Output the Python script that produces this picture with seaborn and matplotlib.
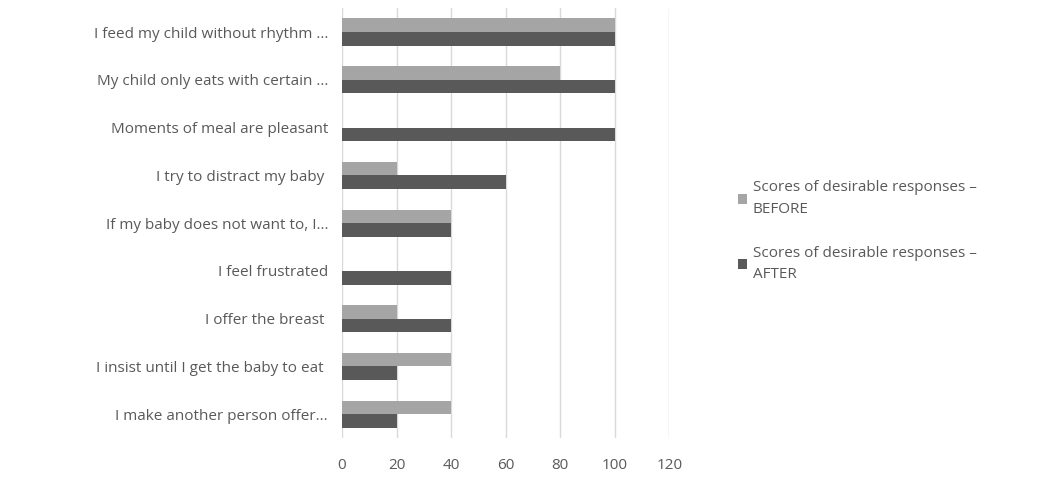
import pandas as pd
import seaborn as sns
import matplotlib.pyplot as plt

categories = [
    "I feed my child without rhythm ...",
    "My child only eats with certain ...",
    "Moments of meal are pleasant",
    "I try to distract my baby ",
    "If my baby does not want to, I...",
    "I feel frustrated",
    "I offer the breast ",
    "I insist until I get the baby to eat ",
    "I make another person offer...",
]
before = [100, 80, 0, 20, 40, 0, 20, 40, 40]
after = [100, 100, 100, 60, 40, 40, 40, 20, 20]
series = ["Scores of desirable responses –\nBEFORE", "Scores of desirable responses –\nAFTER"]

df = pd.DataFrame({
    "cat": categories * 2,
    "val": before + after,
    "series": [series[0]] * len(categories) + [series[1]] * len(categories),
})

sns.set_style("white")
plt.rcParams["font.family"] = ["Open Sans", "DejaVu Sans"]
txt = "#595959"

fig = plt.figure(figsize=(10.49, 4.82), dpi=100)
ax = fig.add_axes([0.326, 0.091, 0.312, 0.892])
sns.barplot(data=df, y="cat", x="val", hue="series", orient="h",
            palette=["#A5A5A5", "#595959"], width=0.57, ax=ax,
            saturation=1, linewidth=0, legend=True)

ax.set_xlim(0, 120)
ax.set_xticks(range(0, 121, 20))
ax.grid(axis="x", color="#D9D9D9", linewidth=1)
ax.set_axisbelow(True)
for s in ax.spines.values():
    s.set_visible(False)
ax.set_xlabel("")
ax.set_ylabel("")
ax.tick_params(axis="both", length=0, colors=txt, labelsize=11)
ax.tick_params(axis="x", pad=14)
ax.tick_params(axis="y", pad=10)

handles, labels = ax.get_legend_handles_labels()
leg = ax.legend(handles, labels, loc="center left", bbox_to_anchor=(0.69, 0.52),
                bbox_transform=fig.transFigure, frameon=False, fontsize=11,
                labelcolor=txt, handlelength=0.6, handleheight=0.6,
                handletextpad=0.4, labelspacing=1.9)
for t in leg.get_texts():
    t.set_linespacing(1.6)

fig.savefig("out.png", dpi=100)
